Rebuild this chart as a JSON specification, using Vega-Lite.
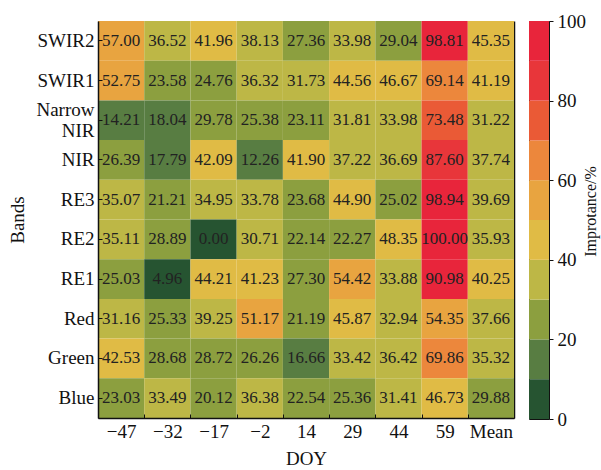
{
  "$schema": "https://vega.github.io/schema/vega-lite/v6.json",
  "autosize": "pad",
  "padding": {"left": 8, "top": 11, "right": 5, "bottom": 5},
  "background": "white",
  "spacing": 13,
  "config": {
    "font": "Liberation Serif",
    "axis": {"labelFont": "Liberation Serif", "titleFont": "Liberation Serif", "labelColor": "#111", "titleColor": "#111", "domainColor": "#111", "tickColor": "#111", "titleFontWeight": "normal"}
  },
  "datasets": {
    "cells": [
      {"band": "SWIR2", "doy": "−47", "v": 57.00}, {"band": "SWIR2", "doy": "−32", "v": 36.52}, {"band": "SWIR2", "doy": "−17", "v": 41.96}, {"band": "SWIR2", "doy": "−2", "v": 38.13}, {"band": "SWIR2", "doy": "14", "v": 27.36}, {"band": "SWIR2", "doy": "29", "v": 33.98}, {"band": "SWIR2", "doy": "44", "v": 29.04}, {"band": "SWIR2", "doy": "59", "v": 98.81}, {"band": "SWIR2", "doy": "Mean", "v": 45.35},
      {"band": "SWIR1", "doy": "−47", "v": 52.75}, {"band": "SWIR1", "doy": "−32", "v": 23.58}, {"band": "SWIR1", "doy": "−17", "v": 24.76}, {"band": "SWIR1", "doy": "−2", "v": 36.32}, {"band": "SWIR1", "doy": "14", "v": 31.73}, {"band": "SWIR1", "doy": "29", "v": 44.56}, {"band": "SWIR1", "doy": "44", "v": 46.67}, {"band": "SWIR1", "doy": "59", "v": 69.14}, {"band": "SWIR1", "doy": "Mean", "v": 41.19},
      {"band": "Narrow NIR", "doy": "−47", "v": 14.21}, {"band": "Narrow NIR", "doy": "−32", "v": 18.04}, {"band": "Narrow NIR", "doy": "−17", "v": 29.78}, {"band": "Narrow NIR", "doy": "−2", "v": 25.38}, {"band": "Narrow NIR", "doy": "14", "v": 23.11}, {"band": "Narrow NIR", "doy": "29", "v": 31.81}, {"band": "Narrow NIR", "doy": "44", "v": 33.98}, {"band": "Narrow NIR", "doy": "59", "v": 73.48}, {"band": "Narrow NIR", "doy": "Mean", "v": 31.22},
      {"band": "NIR", "doy": "−47", "v": 26.39}, {"band": "NIR", "doy": "−32", "v": 17.79}, {"band": "NIR", "doy": "−17", "v": 42.09}, {"band": "NIR", "doy": "−2", "v": 12.26}, {"band": "NIR", "doy": "14", "v": 41.90}, {"band": "NIR", "doy": "29", "v": 37.22}, {"band": "NIR", "doy": "44", "v": 36.69}, {"band": "NIR", "doy": "59", "v": 87.60}, {"band": "NIR", "doy": "Mean", "v": 37.74},
      {"band": "RE3", "doy": "−47", "v": 35.07}, {"band": "RE3", "doy": "−32", "v": 21.21}, {"band": "RE3", "doy": "−17", "v": 34.95}, {"band": "RE3", "doy": "−2", "v": 33.78}, {"band": "RE3", "doy": "14", "v": 23.68}, {"band": "RE3", "doy": "29", "v": 44.90}, {"band": "RE3", "doy": "44", "v": 25.02}, {"band": "RE3", "doy": "59", "v": 98.94}, {"band": "RE3", "doy": "Mean", "v": 39.69},
      {"band": "RE2", "doy": "−47", "v": 35.11}, {"band": "RE2", "doy": "−32", "v": 28.89}, {"band": "RE2", "doy": "−17", "v": 0.00}, {"band": "RE2", "doy": "−2", "v": 30.71}, {"band": "RE2", "doy": "14", "v": 22.14}, {"band": "RE2", "doy": "29", "v": 22.27}, {"band": "RE2", "doy": "44", "v": 48.35}, {"band": "RE2", "doy": "59", "v": 100.00}, {"band": "RE2", "doy": "Mean", "v": 35.93},
      {"band": "RE1", "doy": "−47", "v": 25.03}, {"band": "RE1", "doy": "−32", "v": 4.96}, {"band": "RE1", "doy": "−17", "v": 44.21}, {"band": "RE1", "doy": "−2", "v": 41.23}, {"band": "RE1", "doy": "14", "v": 27.30}, {"band": "RE1", "doy": "29", "v": 54.42}, {"band": "RE1", "doy": "44", "v": 33.88}, {"band": "RE1", "doy": "59", "v": 90.98}, {"band": "RE1", "doy": "Mean", "v": 40.25},
      {"band": "Red", "doy": "−47", "v": 31.16}, {"band": "Red", "doy": "−32", "v": 25.33}, {"band": "Red", "doy": "−17", "v": 39.25}, {"band": "Red", "doy": "−2", "v": 51.17}, {"band": "Red", "doy": "14", "v": 21.19}, {"band": "Red", "doy": "29", "v": 45.87}, {"band": "Red", "doy": "44", "v": 32.94}, {"band": "Red", "doy": "59", "v": 54.35}, {"band": "Red", "doy": "Mean", "v": 37.66},
      {"band": "Green", "doy": "−47", "v": 42.53}, {"band": "Green", "doy": "−32", "v": 28.68}, {"band": "Green", "doy": "−17", "v": 28.72}, {"band": "Green", "doy": "−2", "v": 26.26}, {"band": "Green", "doy": "14", "v": 16.66}, {"band": "Green", "doy": "29", "v": 33.42}, {"band": "Green", "doy": "44", "v": 36.42}, {"band": "Green", "doy": "59", "v": 69.86}, {"band": "Green", "doy": "Mean", "v": 35.32},
      {"band": "Blue", "doy": "−47", "v": 23.03}, {"band": "Blue", "doy": "−32", "v": 33.49}, {"band": "Blue", "doy": "−17", "v": 20.12}, {"band": "Blue", "doy": "−2", "v": 36.38}, {"band": "Blue", "doy": "14", "v": 22.54}, {"band": "Blue", "doy": "29", "v": 25.36}, {"band": "Blue", "doy": "44", "v": 31.41}, {"band": "Blue", "doy": "59", "v": 46.73}, {"band": "Blue", "doy": "Mean", "v": 29.88}
    ],
    "colorbar": [
      {"lo": 0, "hi": 10, "mid": 5}, {"lo": 10, "hi": 20, "mid": 15}, {"lo": 20, "hi": 30, "mid": 25}, {"lo": 30, "hi": 40, "mid": 35}, {"lo": 40, "hi": 50, "mid": 45},
      {"lo": 50, "hi": 60, "mid": 55}, {"lo": 60, "hi": 70, "mid": 65}, {"lo": 70, "hi": 80, "mid": 75}, {"lo": 80, "hi": 90, "mid": 85}, {"lo": 90, "hi": 100, "mid": 95}
    ]
  },
  "hconcat": [
    {
      "data": {"name": "cells"},
      "width": 416,
      "height": 397,
      "view": {"stroke": null},
      "encoding": {
        "x": {"field": "doy", "type": "nominal", "sort": null, "scale": {"paddingInner": 0, "paddingOuter": 0},
          "axis": {"title": "DOY", "labelAngle": 0, "labelFontSize": 19, "titleFontSize": 19, "labelPadding": 8, "titlePadding": 8, "tickBand": "extent", "tickSize": -4, "domainWidth": 1.5}},
        "y": {"field": "band", "type": "nominal", "sort": null, "scale": {"paddingInner": 0, "paddingOuter": 0}}
      },
      "layer": [
        {
          "mark": {"type": "rect"},
          "encoding": {
            "y": {"field": "band", "type": "nominal", "sort": null,
              "axis": {"title": "Bands", "orient": "left", "labelFontSize": 19, "titleFontSize": 19, "labelPadding": 8, "titlePadding": 8, "tickSize": -4, "domainWidth": 1.5,
                "labelExpr": "datum.value == 'Narrow NIR' ? ['Narrow', 'NIR'] : datum.value", "labelLineHeight": 21,
                "labelOffset": {"condition": {"test": "datum.value == 'Narrow NIR'", "value": -10}, "value": 0}}},
            "color": {"field": "v", "type": "quantitative",
              "scale": {"type": "quantize", "domain": [0, 100], "nice": false,
                "range": ["#265431", "#587d42", "#8c9f3f", "#bdb746", "#e0bb45", "#e8a440", "#ec873c", "#ea5a36", "#e8363a", "#e8253b"]},
              "legend": null}
          }
        },
        {
          "mark": {"type": "text", "fontSize": 17, "color": "#222", "font": "Liberation Serif"},
          "encoding": {
            "y": {"field": "band", "type": "nominal", "sort": null,
              "axis": {"orient": "right", "title": null, "labels": false, "ticks": false, "domainWidth": 1.5}},
            "text": {"field": "v", "type": "quantitative", "format": ".2f"}
          }
        }
      ],
      "resolve": {"axis": {"y": "independent"}}
    },
    {
      "data": {"name": "colorbar"},
      "width": 20,
      "height": 398,
      "view": {"stroke": "#111", "strokeWidth": 1},
      "mark": {"type": "rect"},
      "encoding": {
        "y": {"field": "lo", "type": "quantitative", "scale": {"domain": [0, 100], "nice": false, "zero": false},
          "axis": {"orient": "right", "values": [0, 20, 40, 60, 80, 100], "domain": false, "grid": false, "tickSize": 4, "labelFontSize": 19, "labelPadding": 4, "labelFlush": false,
            "title": "Improtance/%", "titleFontSize": 16, "titleAngle": 270, "titleBaseline": "top", "titlePadding": -3, "titleY": 190}},
        "y2": {"field": "hi"},
        "color": {"field": "mid", "type": "quantitative",
          "scale": {"type": "quantize", "domain": [0, 100], "nice": false,
            "range": ["#265431", "#587d42", "#8c9f3f", "#bdb746", "#e0bb45", "#e8a440", "#ec873c", "#ea5a36", "#e8363a", "#e8253b"]},
          "legend": null}
      }
    }
  ]
}
